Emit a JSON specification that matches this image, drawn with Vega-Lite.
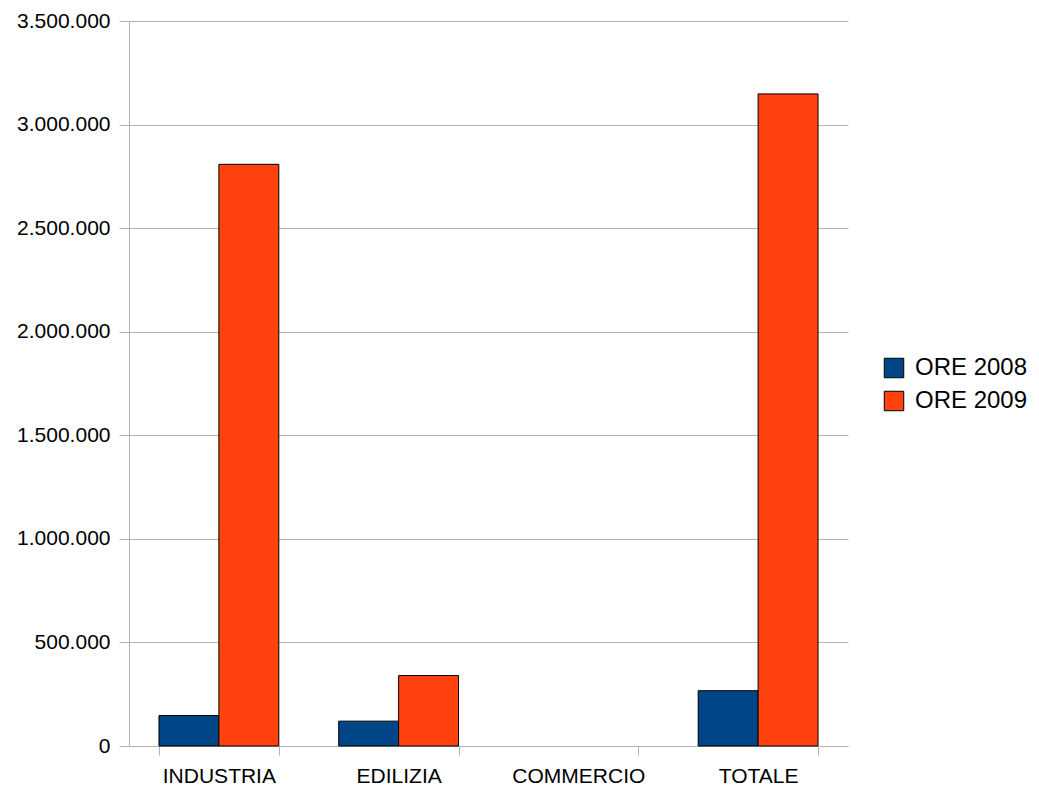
{
  "$schema": "https://vega.github.io/schema/vega-lite/v6.json",
  "autosize": {"type": "none"},
  "padding": {"left": 129, "top": 21, "right": 191, "bottom": 43},
  "width": 719,
  "height": 725,
  "background": "white",
  "config": {
    "font": "Liberation Sans",
    "view": {"stroke": null},
    "locale": {"number": {"decimal": ",", "thousands": ".", "grouping": [3], "currency": ["€", ""]}}
  },
  "data": {
    "values": [
      {"settore": "INDUSTRIA", "serie": "ORE 2008", "ore": 147000},
      {"settore": "INDUSTRIA", "serie": "ORE 2009", "ore": 2808000},
      {"settore": "EDILIZIA", "serie": "ORE 2008", "ore": 120000},
      {"settore": "EDILIZIA", "serie": "ORE 2009", "ore": 340000},
      {"settore": "COMMERCIO", "serie": "ORE 2008", "ore": 0},
      {"settore": "COMMERCIO", "serie": "ORE 2009", "ore": 0},
      {"settore": "TOTALE", "serie": "ORE 2008", "ore": 267000},
      {"settore": "TOTALE", "serie": "ORE 2009", "ore": 3148000}
    ]
  },
  "mark": {"type": "bar", "stroke": "#000000"},
  "encoding": {
    "x": {
      "field": "settore", "type": "nominal",
      "sort": ["INDUSTRIA", "EDILIZIA", "COMMERCIO", "TOTALE"],
      "scale": {"paddingInner": 0.3333, "paddingOuter": 0.1667},
      "axis": {
        "title": null, "labelAngle": 0, "labelFontSize": 21, "labelColor": "#000000",
        "labelPadding": 10, "tickBand": "extent", "tickSize": 9, "tickColor": "#b3b3b3",
        "domainColor": "#b3b3b3", "grid": false
      }
    },
    "xOffset": {"field": "serie", "type": "nominal"},
    "y": {
      "field": "ore", "type": "quantitative",
      "scale": {"domain": [0, 3500000], "nice": false},
      "axis": {
        "title": null, "values": [0, 500000, 1000000, 1500000, 2000000, 2500000, 3000000, 3500000],
        "format": ",d", "labelFontSize": 21, "labelColor": "#000000", "labelPadding": 9,
        "tickSize": 10, "tickColor": "#b3b3b3", "domainColor": "#b3b3b3",
        "gridColor": "#b3b3b3", "grid": true
      }
    },
    "strokeWidth": {"condition": {"test": "datum.ore === 0", "value": 0}, "value": 1},
    "color": {
      "field": "serie", "type": "nominal",
      "scale": {"domain": ["ORE 2008", "ORE 2009"], "range": ["#004586", "#ff420e"]},
      "legend": {
        "title": null, "orient": "none", "legendX": 753, "legendY": 335,
        "symbolType": "square", "symbolSize": 380, "symbolStrokeColor": "#000000",
        "symbolStrokeWidth": 1, "labelFontSize": 24, "labelColor": "#000000",
        "rowPadding": 9, "labelOffset": 9
      }
    }
  }
}
